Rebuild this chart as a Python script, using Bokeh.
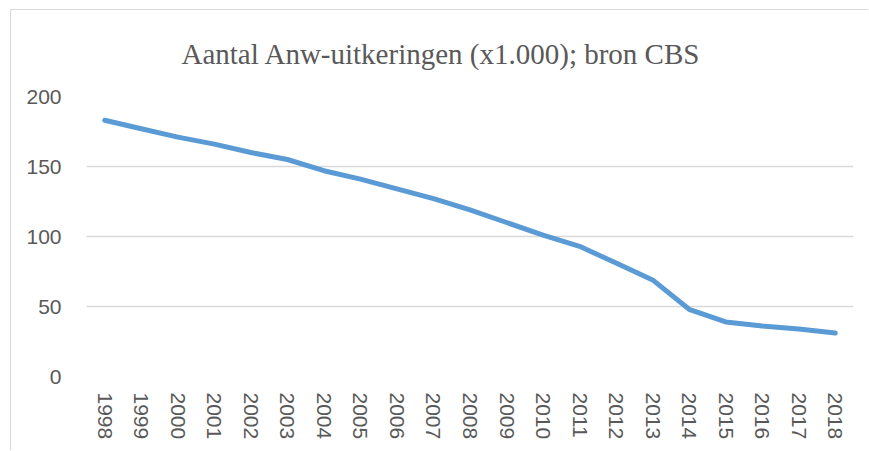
from bokeh.plotting import figure
from bokeh.models import Range1d, FactorRange, FixedTicker, Title
from bokeh.embed import file_html
from bokeh.resources import INLINE

years = [str(y) for y in range(1998, 2019)]
uitkeringen = [183, 177, 171, 166, 160, 155, 147, 141, 134, 127, 119,
               110, 101, 93, 81, 69, 48, 39, 36, 34, 31]
y_ticks = [0, 50, 100, 150, 200]
title_text = "Aantal Anw-uitkeringen (x1.000); bron CBS"

p = figure(width=858, height=441, output_backend="svg", toolbar_location=None,
           x_range=FactorRange(*years, range_padding=0),
           y_range=Range1d(0, 200),
           min_border_left=75, min_border_right=16,
           min_border_top=86, min_border_bottom=75)
p.styles = {"margin-left": "10px", "margin-top": "9px",
            "border-left": "1px solid #d9d9d9", "border-top": "1px solid #d9d9d9"}

p.title = Title(text=title_text, align="left", offset=95, standoff=50,
                vertical_align="top",
                text_font="Liberation Serif", text_font_size="29px",
                text_font_style="normal", text_color="#595959")

p.line(x=years, y=uitkeringen, line_color="#5b9bd5", line_width=5,
       line_cap="round", line_join="round")

p.outline_line_color = None
p.xgrid.grid_line_color = None
p.ygrid.grid_line_color = "#d9d9d9"
p.ygrid.grid_line_width = 1.5
p.yaxis.ticker = FixedTicker(ticks=y_ticks)

for ax in (p.xaxis, p.yaxis):
    ax.axis_line_color = None
    ax.major_tick_line_color = None
    ax.minor_tick_line_color = None
    ax.major_tick_out = 0
    ax.major_tick_in = 0
    ax.major_label_text_font = "Liberation Sans"
    ax.major_label_text_font_size = "21px"
    ax.major_label_text_color = "#595959"

p.yaxis.major_label_standoff = 25
p.xaxis.major_label_standoff = 16
p.xaxis.major_label_orientation = "vertical"

open("out.html", "w").write(file_html(p, INLINE))
